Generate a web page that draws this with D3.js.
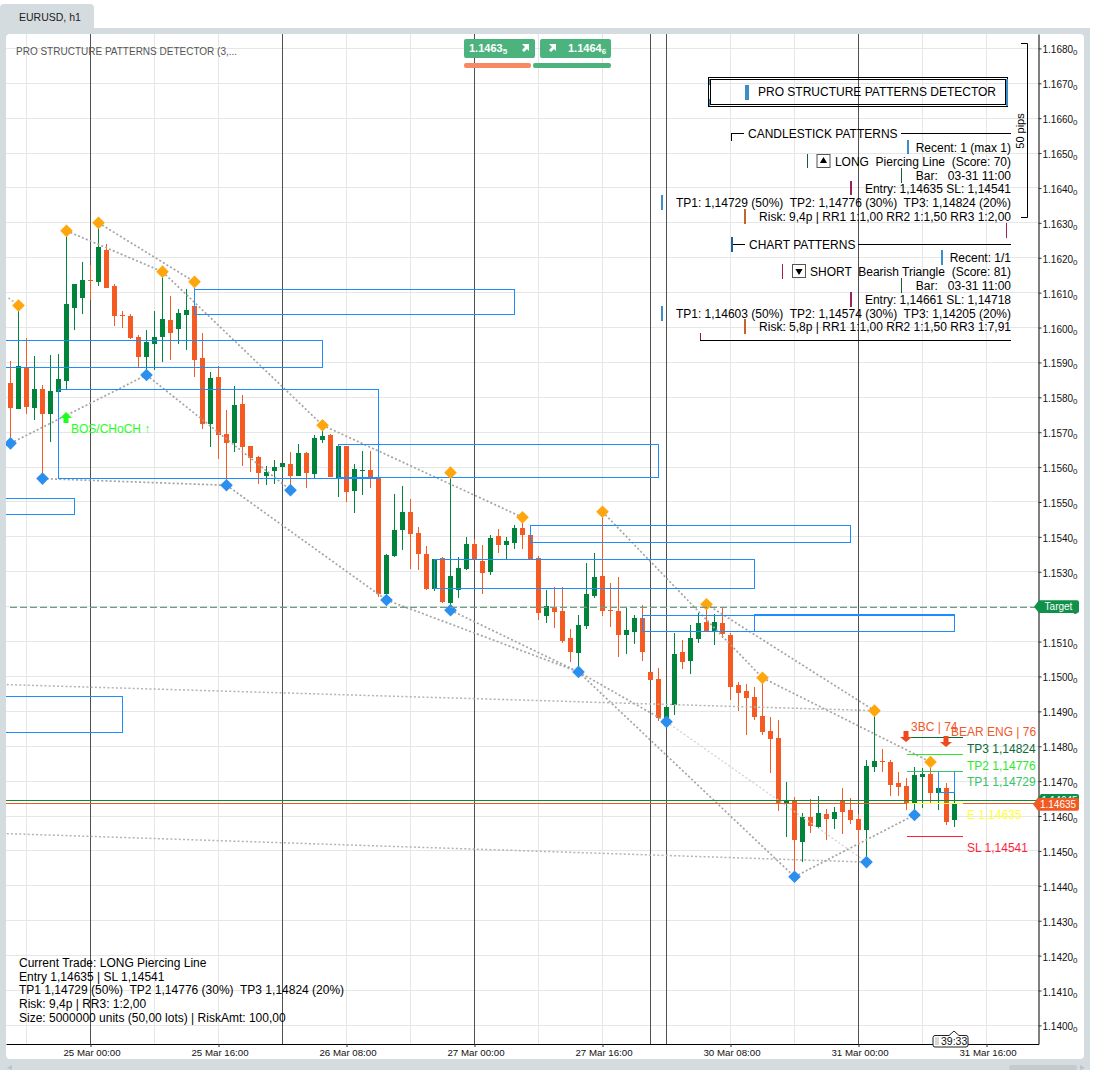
<!DOCTYPE html>
<html>
<head>
<meta charset="utf-8">
<script src="https://cdn.jsdelivr.net/npm/d3@7"></script>
<style>
  body { margin:0; background:#fff; }
  text { font-family:"Liberation Sans", Arial, sans-serif; white-space:pre; }
</style>
</head>
<body>
<div id="chart"></div>
<script>
// EURUSD h1 candles, index 0 is the leftmost bar
const opens = [
  1.15841,1.15766,1.15885,1.15769,1.15824,1.15752,1.15815,1.15846,1.16056,1.16084,
  1.16136,1.16130,1.16222,1.16119,1.16036,1.16033,1.15973,1.15915,1.15953,1.15973,
  1.16021,1.15995,1.16036,1.16061,1.15912,1.15723,1.15858,1.15695,1.15669,1.15781,
  1.15660,1.15629,1.15574,1.15589,1.15600,1.15609,1.15574,1.15640,1.15580,1.15677,
  1.15692,1.15568,1.15660,1.15531,1.15589,1.15591,1.15569,1.15236,1.15345,1.15420,
  1.15471,1.15411,1.15351,1.15250,1.15339,1.15210,1.15247,1.15308,1.15379,1.15331,
  1.15299,1.15402,1.15377,1.15382,1.15425,1.15405,1.15339,1.15173,1.15199,1.15187,
  1.15110,1.15067,1.15144,1.15230,1.15288,1.15190,1.15187,1.15119,1.15127,1.15167,
  1.15013,1.14992,1.14875,1.14918,1.15070,1.15044,1.15107,1.15156,1.15129,1.15153,
  1.15119,1.14975,1.14958,1.14941,1.14886,1.14843,1.14823,1.14634,1.14643,1.14525,
  1.14597,1.14568,1.14606,1.14591,1.14643,1.14617,1.14591,1.14560,1.14740,1.14757,
  1.14755,1.14694,1.14686,1.14634,1.14712,1.14720,1.14666,1.14680,1.14588];
const highs = [
  1.15904,1.16063,1.15969,1.15918,1.15835,1.15921,1.15924,1.16277,1.16124,1.16188,
  1.16179,1.16300,1.16239,1.16126,1.16047,1.16039,1.15978,1.15993,1.16047,1.16160,
  1.16090,1.16053,1.16110,1.16131,1.15984,1.15872,1.15890,1.15763,1.15832,1.15806,
  1.15660,1.15632,1.15603,1.15620,1.15612,1.15643,1.15666,1.15643,1.15692,1.15720,
  1.15695,1.15660,1.15660,1.15609,1.15646,1.15646,1.15569,1.15351,1.15523,1.15546,
  1.15508,1.15428,1.15374,1.15336,1.15342,1.15584,1.15342,1.15399,1.15394,1.15377,
  1.15405,1.15422,1.15399,1.15434,1.15456,1.15405,1.15345,1.15247,1.15256,1.15256,
  1.15136,1.15176,1.15325,1.15354,1.15472,1.15268,1.15285,1.15196,1.15176,1.15205,
  1.15013,1.15024,1.14944,1.15124,1.15104,1.15147,1.15182,1.15207,1.15179,1.15196,
  1.15124,1.14984,1.14978,1.14970,1.14996,1.14884,1.14875,1.14697,1.14654,1.14608,
  1.14649,1.14657,1.14620,1.14626,1.14681,1.14651,1.14606,1.14760,1.14902,1.14792,
  1.14760,1.14726,1.14709,1.14740,1.14737,1.14755,1.14680,1.14694,1.14666];
const lows = [
  1.15668,1.15766,1.15753,1.15735,1.15567,1.15672,1.15815,1.15824,1.15993,1.16039,
  1.16079,1.16119,1.16113,1.16004,1.15998,1.15967,1.15887,1.15864,1.15878,1.15901,
  1.15907,1.15953,1.15935,1.15858,1.15709,1.15657,1.15623,1.15548,1.15643,1.15603,
  1.15586,1.15551,1.15548,1.15551,1.15580,1.15534,1.15574,1.15540,1.15568,1.15669,
  1.15571,1.15514,1.15500,1.15468,1.15520,1.15540,1.15227,1.15219,1.15342,1.15362,
  1.15308,1.15305,1.15247,1.15245,1.15210,1.15190,1.15225,1.15305,1.15336,1.15236,
  1.15291,1.15354,1.15336,1.15365,1.15365,1.15336,1.15162,1.15153,1.15139,1.15096,
  1.15041,1.15013,1.15136,1.15225,1.15173,1.15142,1.15056,1.15064,1.15093,1.15044,
  1.14990,1.14872,1.14870,1.14889,1.15021,1.15007,1.15096,1.15129,1.15090,1.15110,
  1.14932,1.14901,1.14832,1.14875,1.14832,1.14723,1.14614,1.14540,1.14426,1.14468,
  1.14551,1.14563,1.14531,1.14563,1.14548,1.14577,1.14517,1.14468,1.14726,1.14726,
  1.14657,1.14657,1.14617,1.14603,1.14623,1.14634,1.14617,1.14574,1.14568];
const closes = [
  1.15770,1.15890,1.15772,1.15824,1.15752,1.15818,1.15852,1.16067,1.16124,1.16136,
  1.16133,1.16231,1.16113,1.16033,1.16033,1.15970,1.15915,1.15958,1.15973,1.16024,
  1.15984,1.16041,1.16050,1.15907,1.15723,1.15855,1.15692,1.15669,1.15778,1.15657,
  1.15626,1.15583,1.15586,1.15600,1.15612,1.15574,1.15640,1.15583,1.15683,1.15689,
  1.15571,1.15660,1.15528,1.15594,1.15591,1.15569,1.15236,1.15348,1.15420,1.15471,
  1.15408,1.15351,1.15250,1.15336,1.15213,1.15288,1.15311,1.15379,1.15336,1.15296,
  1.15397,1.15377,1.15388,1.15425,1.15405,1.15336,1.15182,1.15202,1.15184,1.15101,
  1.15070,1.15147,1.15236,1.15285,1.15187,1.15187,1.15119,1.15133,1.15167,1.15070,
  1.14990,1.14881,1.14912,1.15064,1.15041,1.15110,1.15153,1.15129,1.15156,1.15121,
  1.14970,1.14952,1.14938,1.14884,1.14841,1.14821,1.14634,1.14646,1.14531,1.14597,
  1.14571,1.14608,1.14591,1.14611,1.14611,1.14588,1.14560,1.14743,1.14757,1.14755,
  1.14689,1.14683,1.14637,1.14717,1.14720,1.14666,1.14680,1.14583,1.14634];

// axis labels
const priceTicks = [1.1400,1.1410,1.1420,1.1430,1.1440,1.1450,1.1460,1.1470,1.1480,1.1490,
  1.1500,1.1510,1.1520,1.1530,1.1540,1.1550,1.1560,1.1570,1.1580,1.1590,
  1.1600,1.1610,1.1620,1.1630,1.1640,1.1650,1.1660,1.1670,1.1680];
const timeIdx = [10,26,42,58,74,90,106,122];
const timeLabels = ["25 Mar 00:00","25 Mar 16:00","26 Mar 08:00","27 Mar 00:00","27 Mar 16:00","30 Mar 08:00","31 Mar 00:00","31 Mar 16:00"];
const gridIdx = [2,10,18,26,34,42,50,58,66,74,82,90,98,106,114,122];
const sessionIdx = [10,34,58,80,82,106];

// swing points (bar index), price comes from the bar's high or low
const swingHighs = [1,7,11,19,23,39,55,64,74,87,94,108,115];
const swingLows = [0,4,17,27,35,47,55,71,82,98,107,113];
// structure lines between swings: [from bar, H or L, to bar, H or L]
const trendLines = [[7,"H",19,"H"],[11,"H",23,"H"],[19,"H",39,"H"],[39,"H",64,"H"],[74,"H",94,"H"],[87,"H",108,"H"],[94,"H",115,"H"],
  [0,"L",17,"L"],[17,"L",35,"L"],[4,"L",27,"L"],[27,"L",47,"L"],[47,"L",71,"L"],[55,"L",71,"L"],[71,"L",98,"L"],[71,"L",82,"L"],[98,"L",113,"L"]];
const faintLines = [[82,"L",107,"L"]];
// long lines that start off the left edge: [bar, price, bar, price]
const longLines = [[-1,1.14977,108,1.14902],[-1,1.14550,107,1.14468]];
const stubLine = [-0.25,1.16085,1,1.16063];

// zones: [first bar, last bar, top price, bottom price]
const zones = [[23,63,1.16109,1.16038],[-1,39,1.15963,1.15886],[6,46,1.15823,1.15566],[41,81,1.15665,1.15571],
  [-1,8,1.15510,1.15464],[65,105,1.15432,1.15384],[53,93,1.15336,1.15252],[79,118,1.15175,1.15129],
  [93,118,1.15177,1.15130],[-1,14,1.14944,1.14839],[116,118,1.14729,1.14668]];

const targetPrice = 1.15198, askPrice = 1.14645, bidPrice = 1.14635;

// trade levels
const levelNames = ["TP3 1,14824","TP2 1,14776","TP1 1,14729","E 1,14635","SL 1,14541"];
const levelPrices = [1.14824,1.14776,1.14729,1.14635,1.14541];
const levelColors = ["#0b6b38","#2ee82e","#35c46a","#ffff33","#ff1f3d"];

const infoLines = ["Current Trade: LONG Piercing Line","Entry 1,14635 | SL 1,14541","TP1 1,14729 (50%)  TP2 1,14776 (30%)  TP3 1,14824 (20%)","Risk: 9,4p | RR3: 1:2,00","Size: 5000000 units (50,00 lots) | RiskAmt: 100,00"];
const tableLines = ["Recent: 1 (max 1)","LONG  Piercing Line  (Score: 70)","Bar:   03-31 11:00","Entry: 1,14635 SL: 1,14541","TP1: 1,14729 (50%)  TP2: 1,14776 (30%)  TP3: 1,14824 (20%)","Risk: 9,4p | RR1 1:1,00 RR2 1:1,50 RR3 1:2,00"];
const tableLines2 = ["Recent: 1/1","SHORT  Bearish Triangle  (Score: 81)","Bar:   03-31 11:00","Entry: 1,14661 SL: 1,14718","TP1: 1,14603 (50%)  TP2: 1,14574 (30%)  TP3: 1,14205 (20%)","Risk: 5,8p | RR1 1:1,00 RR2 1:1,50 RR3 1:7,91"];

const W = 1094, H = 1070;
const up = "#00843c", down = "#f55a22", zoneBlue = "#1c8cff";
const svg = d3.select("#chart").append("svg").attr("width",W).attr("height",H).style("display","block");

// grey frame, tab, white panel
svg.append("rect").attr("x",0).attr("y",28).attr("width",1090).attr("height",1042).attr("fill","#d5dcdf");
svg.append("path").attr("d","M0 28V8Q0 4 4 4H90Q94 4 94 8V28Z").attr("fill","#d5dcdf");
svg.append("rect").attr("x",6).attr("y",34).attr("width",1078).attr("height",1025).attr("rx",4).attr("fill","#fff");
svg.append("rect").attr("x",1009).attr("y",1065).attr("width",68).attr("height",5).attr("rx",2).attr("fill","#c3cbcf");
svg.append("path").attr("d","M1080 1065L1085 1068L1080 1070Z").attr("fill","#bcc4c8");
svg.append("path").attr("d","M12 1065L7 1068L12 1070Z").attr("fill","#bcc4c8");
text(19,21,"EURUSD, h1",{size:10.5,fill:"#222"});

// one bar is 8px, y is about 34.9px per 10 pips
const x = d3.scaleLinear().domain([-0.5625,128.5]).range([6,1038.5]);
const y = d3.scaleLinear().domain([1.139467,1.168412]).range([1044,34]);

svg.append("clipPath").attr("id","plot").append("rect").attr("x",6).attr("y",34).attr("width",1032.5).attr("height",1010);
const g = svg.append("g").attr("clip-path","url(#plot)");

// grid
g.selectAll(".gv").data(gridIdx).join("line").attr("x1",d=>x(d)).attr("x2",d=>x(d)).attr("y1",34).attr("y2",1044)
  .attr("stroke","#e6e6e6").attr("shape-rendering","crispEdges");
g.selectAll(".gh").data(priceTicks).join("line").attr("x1",6).attr("x2",1038).attr("y1",d=>y(d)).attr("y2",d=>y(d))
  .attr("stroke","#e6e6e6").attr("shape-rendering","crispEdges");

// period separators
const sep = g.append("g");
sep.selectAll("line").data(sessionIdx).join("line").attr("x1",d=>x(d)).attr("x2",d=>x(d)).attr("y1",34).attr("y2",1044)
  .attr("stroke","#505050").attr("shape-rendering","crispEdges");

// candles
const bars = d3.range(opens.length);
const col = i => closes[i] >= opens[i] ? up : down;
g.selectAll(".wick").data(bars).join("line").attr("x1",x).attr("x2",x).attr("y1",i=>y(highs[i])).attr("y2",i=>y(lows[i]))
  .attr("stroke",col).attr("shape-rendering","crispEdges");
g.selectAll(".body").data(bars).join("rect").attr("x",i=>x(i)-2.5).attr("width",5)
  .attr("y",i=>y(Math.max(opens[i],closes[i])))
  .attr("height",i=>Math.max(1,Math.abs(y(opens[i])-y(closes[i]))))
  .attr("fill",col).attr("shape-rendering","crispEdges");

// dotted structure lines
const px = (k,t) => y(t === "H" ? highs[k] : lows[k]);
function dotted(sel,data,color,w) {
  sel.append("g").selectAll("line").data(data).join("line")
    .attr("x1",d=>x(d[0])).attr("y1",d=>px(d[0],d[1])).attr("x2",d=>x(d[2])).attr("y2",d=>px(d[2],d[3]))
    .attr("stroke",color).attr("stroke-width",w).attr("stroke-dasharray","2,2.2");
}
dotted(g,trendLines,"#a4a4a4",1.7);
dotted(g,faintLines,"#d2d2d2",1.3);
g.append("g").selectAll("line").data(longLines.concat([stubLine])).join("line")
  .attr("x1",d=>x(d[0])).attr("y1",d=>y(d[1])).attr("x2",d=>x(d[2])).attr("y2",d=>y(d[3]))
  .attr("stroke","#b4b4b4").attr("stroke-width",1.5).attr("stroke-dasharray","2,2.2");

// zones
g.selectAll(".zone").data(zones).join("rect")
  .attr("x",d=>x(d[0])).attr("width",d=>x(d[1])-x(d[0])).attr("y",d=>y(d[2])).attr("height",d=>y(d[3])-y(d[2]))
  .attr("fill","none").attr("stroke",zoneBlue).attr("shape-rendering","crispEdges");

// swing diamonds
const diamond = d3.symbol().type(d3.symbolSquare).size(80);
g.selectAll(".hi").data(swingHighs).join("path").attr("d",diamond)
  .attr("transform",k=>`translate(${x(k)},${y(highs[k])}) rotate(45)`).attr("fill","#ffa60d");
g.selectAll(".lo").data(swingLows).join("path").attr("d",diamond)
  .attr("transform",k=>`translate(${x(k)},${y(lows[k])}) rotate(45)`).attr("fill","#2b8ff0");

// target and current price lines
g.append("line").attr("x1",10).attr("x2",1038).attr("y1",y(targetPrice)).attr("y2",y(targetPrice))
  .attr("stroke","#6f9c83").attr("stroke-width",1.2).attr("stroke-dasharray","7,3");
g.append("line").attr("x1",6).attr("x2",1038).attr("y1",y(askPrice)).attr("y2",y(askPrice)).attr("stroke","#0b8a3e").attr("shape-rendering","crispEdges");
g.append("line").attr("x1",6).attr("x2",1038).attr("y1",y(bidPrice)).attr("y2",y(bidPrice)).attr("stroke","#f2591f").attr("shape-rendering","crispEdges");

// trade level lines and labels
g.selectAll(".lvl").data(levelPrices).join("line").attr("x1",x(112)).attr("x2",x(119)).attr("y1",d=>y(d)).attr("y2",d=>y(d))
  .attr("stroke",(d,i)=>levelColors[i]).attr("shape-rendering","crispEdges");
levelNames.forEach((n,i)=>text(967,y(levelPrices[i])+15,n,{size:12,fill:levelColors[i]}));

// pattern marks
text(71,433,"BOS/CHoCH ↑",{size:12,fill:"#22ff22"});
g.append("path").attr("d","M66 412L72 418H68.5V423H63.5V418H60Z").attr("fill","#1dff1d");
text(911,731,"3BC | 74",{size:12,fill:"#f2592a"});
text(951,736,"BEAR ENG | 76",{size:12,fill:"#f2592a"});
[[906,731],[946,736]].forEach(p=>{
  g.append("path").attr("d",`M${p[0]-2.5} ${p[1]}H${p[0]+2.5}V${p[1]+6}H${p[0]+6}L${p[0]} ${p[1]+11}L${p[0]-6} ${p[1]+6}H${p[0]-2.5}Z`).attr("fill","#f0481e");
});

// axes
const axisY = d3.axisRight(y).tickValues(priceTicks).tickSize(3).tickSizeOuter(0).tickPadding(1).tickFormat(d=>d.toFixed(4));
const gy = svg.append("g").attr("transform","translate(1038.5,0)").call(axisY);
gy.selectAll("text").attr("font-size",10).attr("fill","#111").attr("dy","0.45em")
  .append("tspan").attr("font-size",8).attr("dy",2).text("0");
const axisX = d3.axisBottom(x).tickValues(timeIdx).tickSize(3).tickSizeOuter(0).tickPadding(2).tickFormat((d,i)=>timeLabels[i]);
const gx = svg.append("g").attr("transform","translate(0,1044)").call(axisX);
gx.selectAll("text").attr("font-size",9.7).attr("fill","#111").attr("dx",1);
svg.selectAll(".domain").attr("stroke","#000");
svg.selectAll(".tick line").attr("stroke","#333");

// header
text(16,55,"PRO STRUCTURE PATTERNS DETECTOR (3,...",{size:10,fill:"#555"});
[[464,71,"1.1463","5"],[540,71,"1.1464","6"]].forEach((b,i)=>{
  svg.append("rect").attr("x",b[0]).attr("y",39).attr("width",b[1]).attr("height",19).attr("rx",2).attr("fill","#4cb37e");
  const tx = svg.append("text").attr("x",i?b[0]+28:b[0]+5).attr("y",52).attr("font-size",11).attr("font-weight","bold").attr("fill","#fff").text(b[2]);
  tx.append("tspan").attr("font-size",8).attr("dy",2).text(b[3]);
  const ax = i ? b[0]+9 : b[0]+58;
  svg.append("path").attr("d",`M${ax} 44H${ax+7}V51L${ax+5} 49L${ax+2} 52L${ax} 50L${ax+3} 47Z`).attr("fill","#fff");
});
svg.append("rect").attr("x",464).attr("y",63).attr("width",67).attr("height",5).attr("rx",2).attr("fill","#f78a64");
svg.append("rect").attr("x",533).attr("y",63).attr("width",78).attr("height",5).attr("rx",2).attr("fill","#4cb37e");

// title box of the panel
const hud = svg.append("g");
const hl = (x1,y1,x2,y2,c,w) => hud.append("line").attr("x1",x1).attr("y1",y1).attr("x2",x2).attr("y2",y2).attr("stroke",c||"#000").attr("stroke-width",w||1).attr("shape-rendering","crispEdges");
hud.append("rect").attr("x",708.5).attr("y",77.5).attr("width",299).attr("height",29).attr("fill","none").attr("stroke","#000");
hud.append("rect").attr("x",710.5).attr("y",79.5).attr("width",295).attr("height",25).attr("fill","none").attr("stroke","#000");
hl(709.5,79,709.5,85,"#3a8fc8"); hl(709.5,99,709.5,106,"#3a8fc8"); hl(1007,79,1007,106,"#3a8fc8",2);
hl(745.5,85,745.5,100,"#3a8fc8",2); hl(748,85,748,100,"#3a8fc8",2);
text(758,96,"PRO STRUCTURE PATTERNS DETECTOR",{size:12,fill:"#000"});

// section rules
hl(731,133.5,744,133.5); hl(731.5,133,731.5,141); hl(901,133.5,1011,133.5);
text(748,138,"CANDLESTICK PATTERNS",{size:12,fill:"#000"});
hl(731,244.5,745,244.5); hl(732,237,732,252,"#225f8f",2); hl(858,244.5,1011,244.5);
text(749,249,"CHART PATTERNS",{size:12,fill:"#000"});
hl(700.5,333,700.5,340,"#8a1a3a"); hl(700,340.5,1011,340.5);

// table rows
const rowY = [152,166,180,193,207,221], rowY2 = [262,276,290,304,318,331];
tableLines.forEach((s,i)=>text(1011,rowY[i],s,{size:12,fill:"#000",anchor:"end"}));
tableLines2.forEach((s,i)=>text(1011,rowY2[i],s,{size:12,fill:"#000",anchor:"end"}));
const blue="#3a8fc8", maroon="#9c2357", dark="#1d5a33", brown="#c4642a";
[[908,140,154,blue],[807.5,154,168,dark],[901.5,168,183,dark],[851,181,195,maroon],[662,195,210,blue],[745,209,224,brown],[1006.5,223,238,maroon],
 [942,250,265,blue],[782.5,264,279,maroon],[901.5,278,293,dark],[851,292,307,maroon],[662,306,321,blue],[745,319,334,brown]]
  .forEach(b=>hl(b[0],b[1],b[0],b[2],b[3],1.5));
[[817,158,d3.symbolTriangle,0],[792.5,268,d3.symbolTriangle,180]].forEach(c=>{
  hud.append("rect").attr("x",c[0]).attr("y",c[1]-3.5).attr("width",13).attr("height",13).attr("fill","#fff").attr("stroke","#555");
  hud.append("path").attr("d",d3.symbol().type(c[2]).size(22)).attr("transform",`translate(${c[0]+6.5},${c[1]+3}) rotate(${c[3]})`).attr("fill","#000");
});

// 50 pips ruler
hud.append("path").attr("d","M1021 43.5H1027.5V217.5H1021").attr("fill","none").attr("stroke","#000");
text(0,0,"50 pips",{size:11,fill:"#000",anchor:"middle",transform:"translate(1024,131) rotate(-90)"});

// current trade box
infoLines.forEach((s,i)=>text(19,[967,981,994,1008,1022][i],s,{size:12,fill:"#000"}));

// price tags on the axis
function tag(yy,label,fill,x1,x2) {
  svg.append("path").attr("d",`M${x1} ${yy}L${x1+5} ${yy-6.3}H${x2-2}Q${x2} ${yy-6.3} ${x2} ${yy-4.3}V${yy+4.3}Q${x2} ${yy+6.3} ${x2-2} ${yy+6.3}H${x1+5}Z`).attr("fill",fill);
  text((x1+x2+4)/2,yy+3.5,label,{size:10,fill:"#fff",anchor:"middle"});
}
tag(y(targetPrice)-0.7,"Target","#0f9149",1034,1079);
tag(y(askPrice),"1.14645","#0f8c4b",1036,1079);
tag(y(bidPrice)+0.5,"1.14635","#f25a22",1033,1079);

// bar countdown
svg.append("path").attr("d","M935 1035.5H949L954 1031L959 1035.5H966Q968 1035.5 968 1037.5V1045Q968 1047 966 1047H935Q933 1047 933 1045V1037.5Q933 1035.5 935 1035.5Z")
  .attr("fill","#fff").attr("stroke","#222");
svg.append("line").attr("x1",936).attr("x2",936).attr("y1",1037.5).attr("y2",1045).attr("stroke","#666").attr("stroke-dasharray","1,1");
svg.append("line").attr("x1",938).attr("x2",938).attr("y1",1037.5).attr("y2",1045).attr("stroke","#666").attr("stroke-dasharray","1,1");
text(941,1045,"39:33",{size:10.5,fill:"#111"});

function text(xp,yp,s,o) {
  const t = svg.append("text").attr("x",xp).attr("y",yp).attr("font-size",o.size).attr("fill",o.fill).attr("text-anchor",o.anchor||"start").text(s);
  if (o.transform) t.attr("transform",o.transform);
  return t;
}
</script>
</body>
</html>
